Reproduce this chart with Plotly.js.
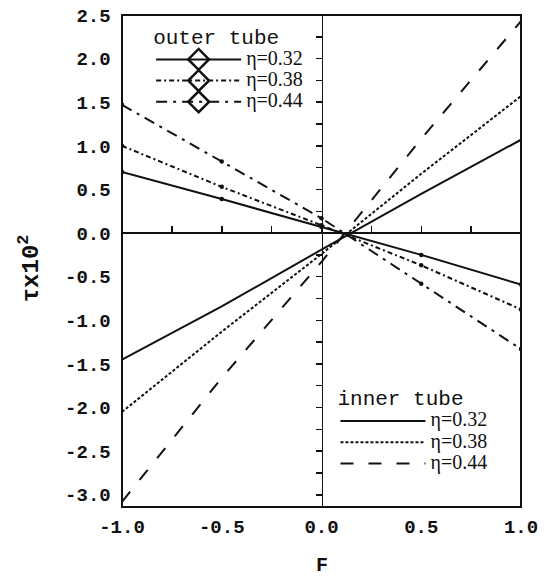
<!DOCTYPE html>
<html>
<head>
<meta charset="utf-8">
<script src="https://cdn.plot.ly/plotly-3.0.1.min.js"></script>
<style>html,body{margin:0;padding:0;background:#fff;}</style>
</head>
<body>
<div id="chart" style="width:546px;height:577px;"></div>
<script>
// Data
var F = [-1, -0.5, 0, 0.5, 1];
var outer032 = [0.70, 0.39, 0.07, -0.25, -0.59];
var outer038 = [1.00, 0.53, 0.09, -0.37, -0.875];
var outer044 = [1.47, 0.82, 0.17, -0.58, -1.33];
var inner032 = [-1.45, -0.84, -0.19, 0.45, 1.07];
var inner038 = [-2.05, -1.13, -0.24, 0.68, 1.57];
var inner044 = [-3.08, -1.66, -0.33, 1.08, 2.43];
var seriesNames = ['η=0.32', 'η=0.38', 'η=0.44'];
// tick marks every 0.25 on the zero lines, labels every 0.5
var xTickVals = [-1, -0.75, -0.5, -0.25, 0, 0.25, 0.5, 0.75, 1];
var xTickText = ['-1.0', '', '-0.5', '', '0.0', '', '0.5', '', '1.0'];
var yTickVals = [-3, -2.75, -2.5, -2.25, -2, -1.75, -1.5, -1.25, -1, -0.75, -0.5, -0.25, 0,
                 0.25, 0.5, 0.75, 1, 1.25, 1.5, 1.75, 2, 2.25, 2.5];
var yTickText = ['-3.0', '', '-2.5', '', '-2.0', '', '-1.5', '', '-1.0', '', '-0.5', '', '0.0',
                 '', '0.5', '', '1.0', '', '1.5', '', '2.0', '', '2.5'];
var xTitle = 'F';
var yTitle = 'τx10<sup>2</sup>';

var ink = '#111';
var outerDash = ['solid', '5px,3px,2px,3px', '11px,6px,3px,6px'];
var innerDash = ['solid', '3px,2px', '13px,15px'];
var outerData = [outer032, outer038, outer044];
var innerData = [inner032, inner038, inner044];

function legendLabel(s) { return '<span style="font-size:20px">' + s + '</span>'; }

var traces = [];
// legend entries for outer tube (large open diamonds)
for (var i = 0; i < 3; i++) {
  traces.push({
    x: [null], y: [null], type: 'scatter', mode: 'lines+markers',
    name: legendLabel(seriesNames[i]), legend: 'legend', showlegend: true,
    line: {color: ink, width: 2, dash: outerDash[i]},
    marker: {symbol: 'diamond-open', size: 17, color: ink, line: {width: 2.5, color: ink}},
    hoverinfo: 'skip'
  });
}
for (var i = 0; i < 3; i++) {
  traces.push({
    x: F, y: outerData[i], type: 'scatter', mode: 'lines+markers',
    name: 'outer ' + seriesNames[i], showlegend: false,
    line: {color: ink, width: 2, dash: outerDash[i]},
    marker: {symbol: 'circle', size: 4.5, color: ink}
  });
}
for (var i = 0; i < 3; i++) {
  traces.push({
    x: F, y: innerData[i], type: 'scatter', mode: 'lines',
    name: legendLabel(seriesNames[i]), legend: 'legend2', showlegend: true,
    line: {color: ink, width: 2, dash: innerDash[i]}
  });
}

var monoFam = 'Liberation Mono, Courier New, monospace';
var monoB = {family: monoFam, size: 19, color: ink, weight: 'bold'};
var mono = {family: monoFam, size: 21, color: ink};
var serif = {family: 'Liberation Serif, Times New Roman, serif', size: 14, color: ink};
var yRange = [-3.14, 2.5];
var zeroPos = (0 - yRange[0]) / (yRange[1] - yRange[0]);

var layout = {
  width: 546, height: 577,
  margin: {l: 122, r: 25, t: 15, b: 70},
  // axes drawn along the zero lines, labels pushed out to the frame
  xaxis: {
    range: [-1, 1], tickmode: 'array', tickvals: xTickVals, ticktext: xTickText,
    anchor: 'free', position: zeroPos, side: 'bottom',
    showline: true, linewidth: 2, linecolor: ink,
    ticks: 'inside', ticklen: 6, tickwidth: 1.5, tickcolor: ink,
    showgrid: false, zeroline: false,
    tickfont: monoB, ticklabelstandoff: 276
  },
  yaxis: {
    range: yRange, tickmode: 'array', tickvals: yTickVals, ticktext: yTickText,
    anchor: 'free', position: 0.5, side: 'left',
    showline: true, linewidth: 1, linecolor: ink,
    ticks: 'outside', ticklen: 6, tickwidth: 1.5, tickcolor: ink,
    showgrid: false, zeroline: false,
    tickfont: monoB, ticklabelstandoff: 201
  },
  shapes: [
    {type: 'rect', xref: 'paper', yref: 'paper', x0: 0, x1: 1, y0: 0, y1: 1,
     line: {color: ink, width: 2}, fillcolor: 'rgba(0,0,0,0)', layer: 'above'}
  ],
  annotations: [
    {text: xTitle, xref: 'paper', yref: 'paper', x: 0.5, y: -0.118, xanchor: 'center', yanchor: 'middle',
     showarrow: false, font: {family: monoFam, size: 20, color: ink, weight: 'bold'}},
    {text: yTitle, xref: 'paper', yref: 'paper', x: -0.232, y: 0.486, xanchor: 'center', yanchor: 'middle',
     textangle: -90, showarrow: false, font: {family: monoFam, size: 24, color: ink, weight: 'bold'}}
  ],
  legend: {
    x: 0.073, y: 0.997, xanchor: 'left', yanchor: 'top',
    bgcolor: 'rgba(0,0,0,0)', borderwidth: 0,
    title: {text: 'outer tube', font: mono},
    font: serif, itemwidth: 85, tracegroupgap: 0
  },
  legend2: {
    x: 0.535, y: 0.262, xanchor: 'left', yanchor: 'top',
    bgcolor: 'rgba(0,0,0,0)', borderwidth: 0,
    title: {text: 'inner tube', font: mono},
    font: serif, itemwidth: 85, tracegroupgap: 0
  }
};

Plotly.newPlot('chart', traces, layout, {displayModeBar: false, staticPlot: true});
</script>
</body>
</html>
